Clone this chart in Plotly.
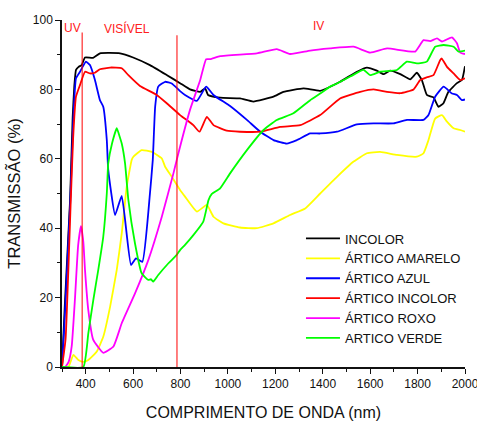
import plotly.graph_objects as go

# ---------------- data ----------------
incolor_nm = [300, 312, 334, 345, 352, 359, 370, 383, 397, 431, 460, 545, 600, 671, 743, 798, 840,
              883, 904, 916, 967, 1051, 1107, 1192, 1234, 1319, 1389, 1473, 1544, 1586, 1628, 1656,
              1684, 1727, 1769, 1797, 1818, 1839, 1867, 1888, 1909, 1930, 1966, 1987, 2000]
incolor_t = [0, 18, 48, 72, 81, 85.6, 86.5, 87, 89.2, 89.1, 90.4, 90.4, 89.2, 87, 84.1, 81.8, 80,
             79.3, 80.3, 78.4, 77.6, 77.4, 76.5, 77.9, 79.3, 80.3, 79.6, 82.2, 85.1, 86.3, 85.4, 84.4,
             85.4, 84.4, 82.9, 84.8, 82.7, 78.4, 77.7, 75.0, 76, 79.3, 81.8, 82.7, 86.7]

amarelo_nm = [300, 327, 348, 369, 390, 411, 446, 474, 503, 531, 552, 573, 594, 601, 636, 679, 721,
              735, 763, 798, 819, 869, 911, 939, 981, 1051, 1122, 1192, 1262, 1326, 1389, 1460, 1530,
              1586, 1642, 1713, 1797, 1825, 1846, 1874, 1903, 1924, 1952, 1980, 2000]
amarelo_t = [0, 0, 3.5, 2, 1.5, 2, 4.4, 8.7, 17.4, 28, 38.5, 52, 59.7, 60.6, 62.5, 62, 60.1,
             57.7, 54.8, 51, 49.1, 44.8, 46.7, 43.3, 41.4, 40.2, 40, 41.4, 43.8, 45.7, 50, 54.8, 59.2,
             61.6, 62, 61.1, 60.6, 61.6, 65.4, 71.6, 72.6, 70.7, 68.8, 68.3, 67.8]

azul_nm = [300, 310, 335, 348, 359, 376, 401, 418, 439, 460, 474, 489, 495, 524, 552, 591, 612, 639,
           671, 683, 693, 706, 735, 763, 798, 819, 869, 908, 939, 1009, 1080, 1136, 1192, 1248, 1291,
           1347, 1389, 1460, 1544, 1614, 1698, 1755, 1825, 1846, 1874, 1910, 1945, 1966, 1987, 2000]
azul_t = [0, 12, 48, 72, 83.2, 85.1, 88, 87, 82.7, 76.9, 75, 65.4, 56.8, 43.8, 49.3, 29.4, 31.3, 30.3,
          50, 59.7, 75, 80.8, 82.2, 81.7, 79.5, 78.4, 76.7, 80.8, 78.4, 75.2, 71.2, 67.8, 65.4, 64.4, 65.4,
          67.3, 67.3, 67.8, 69.9, 70.2, 70.2, 71.2, 71.2, 72.6, 77.9, 80.8, 78.8, 78.4, 76.9, 77.1]

art_incolor_nm = [300, 315, 337, 347, 359, 376, 397, 418, 439, 460, 503, 552, 580, 629, 700, 742,
                  798, 854, 880, 911, 939, 995, 1051, 1136, 1220, 1305, 1389, 1473, 1558, 1614, 1671,
                  1727, 1783, 1811, 1839, 1867, 1895, 1902, 1924, 1952, 1980, 2000]
art_incolor_t = [0, 8, 48, 66, 77.9, 81.3, 85.1, 84.6, 84.8, 85.8, 86.3, 86.1, 84.1, 81, 78.4, 76,
                 72.6, 69.7, 67.8, 72.1, 69.7, 68.1, 67.8, 67.8, 69.2, 69.7, 72.6, 77.4, 79.3, 80, 79.3,
                 78.9, 80, 82.7, 83.5, 84.1, 88.4, 88.9, 86.5, 84.6, 82.7, 83.2]

roxo_nm = [300, 313, 328, 341, 355, 368, 380, 390, 397, 411, 432, 474, 517, 552, 608, 664, 721, 770,
           784, 798, 840, 883, 908, 925, 967, 1122, 1206, 1262, 1347, 1431, 1530, 1600, 1671, 1790,
           1825, 1853, 1882, 1903, 1945, 1966, 1980, 2000]
roxo_t = [0, 0, 1.5, 6, 20, 35, 40.6, 36, 28, 16.4, 7.8, 4.1, 5.9, 12.6, 21.2, 30.8, 43.3, 55.8,
          59.7, 63.5, 74.1, 82.7, 88.7, 88.7, 89.6, 90.4, 91.6, 90.2, 91.2, 91.8, 92.3, 90.6, 91.8, 90.9,
          94.2, 93.9, 94.7, 93.8, 95, 93.3, 90.6, 90.2]

verde_nm = [300, 390, 411, 432, 453, 474, 489, 495, 511, 531, 545, 552, 566, 580, 608, 636, 664, 675,
            685, 706, 749, 784, 798, 819, 854, 896, 918, 932, 967, 1009, 1080, 1150, 1206, 1276, 1347,
            1389, 1431, 1460, 1516, 1572, 1600, 1642, 1713, 1755, 1797, 1839, 1874, 1910, 1952, 1973, 2000]
verde_t = [0, 0, 9.7, 19.3, 28, 37.5, 50, 58.7, 64.4, 68.8, 66, 64.4, 58.7, 48.1, 35.6, 27, 25.1, 25.3,
           24.6, 26.5, 29.9, 32.3, 33.7, 35.2, 38, 41.9, 48.1, 49.9, 51.5, 55.8, 62.5, 68.3, 71.2, 73.1, 76.9,
           78.8, 80.8, 81.7, 83.7, 85.6, 84.1, 85.1, 85.6, 88, 87.5, 88, 92.3, 92.8, 92.3, 90.9, 91.2]

series_names = ["INCOLOR", "ÁRTICO AMARELO", "ÁRTICO AZUL", "ÁRTICO INCOLOR", "ÁRTICO ROXO", "ARTICO VERDE"]
series_x = [incolor_nm, amarelo_nm, azul_nm, art_incolor_nm, roxo_nm, verde_nm]
series_y = [incolor_t, amarelo_t, azul_t, art_incolor_t, roxo_t, verde_t]
series_colors = ["#000000", "#FFFF00", "#0000FF", "#FF0000", "#FF00FF", "#00FF00"]

region_bounds = [385, 785]
region_tops = [96.4, 95.6]
region_labels = ["UV", "VISÍVEL", "IV"]
region_label_x = [344, 574, 1383]
region_label_y = [97.6, 97.6, 98.2]

x_tickvals = [400, 600, 800, 1000, 1200, 1400, 1600, 1800, 2000]

FONT = "Liberation Sans, Arial, sans-serif"

fig = go.Figure()
for name, xs, ys, col in zip(series_names, series_x, series_y, series_colors):
    fig.add_trace(go.Scatter(x=xs, y=ys, mode="lines", name=name,
                             line=dict(color=col, width=1.8, shape="spline", smoothing=0.4)))

for bx, top in zip(region_bounds, region_tops):
    fig.add_shape(type="line", xref="x", yref="y", x0=bx, x1=bx, y0=0, y1=top,
                  line=dict(color="#FF0000", width=1))

for lab, lx, ly in zip(region_labels, region_label_x, region_label_y):
    fig.add_annotation(x=lx, y=ly, xref="x", yref="y", text=lab, showarrow=False,
                       font=dict(family=FONT, size=12, color="#FF2020"))

fig.update_layout(
    width=477, height=421,
    margin=dict(l=62, r=12, t=20, b=54, autoexpand=False),
    paper_bgcolor="white", plot_bgcolor="white",
    font=dict(family=FONT, size=12, color="#111111"),
    showlegend=True,
    legend=dict(x=0.593, y=0.4135, xanchor="left", yanchor="top",
                bgcolor="rgba(0,0,0,0)", borderwidth=0,
                font=dict(family=FONT, size=13, color="#111111"),
                itemwidth=34),
)
fig.update_xaxes(range=[300, 2000], showgrid=False, zeroline=False, automargin=False,
                 showline=True, linecolor="#111111", linewidth=1.5,
                 ticks="outside", ticklen=5, tickwidth=1.2, tickcolor="#111111",
                 tickmode="array", tickvals=x_tickvals, ticklabeloverflow="allow",
                 minor=dict(ticks="outside", ticklen=3, tickwidth=1, tickcolor="#111111", dtick=100, tick0=300, showgrid=False),
                 tickfont=dict(family=FONT, size=12, color="#111111"),
                 title=dict(text="COMPRIMENTO DE ONDA (nm)", standoff=17,
                            font=dict(family=FONT, size=16, color="#111111")))
fig.update_yaxes(range=[0, 100], showgrid=False, zeroline=False, automargin=False,
                 showline=True, linecolor="#111111", linewidth=1.5,
                 ticks="outside", ticklen=5, tickwidth=1.2, tickcolor="#111111",
                 dtick=20,
                 minor=dict(ticks="outside", ticklen=3, tickwidth=1, tickcolor="#111111", dtick=10, showgrid=False),
                 tickfont=dict(family=FONT, size=12, color="#111111"),
                 title=dict(text="TRANSMISSÃO (%)", standoff=8,
                            font=dict(family=FONT, size=16.5, color="#111111")))

fig.write_html("out.html", config={"displayModeBar": False})

# remove the default 8px body margin so the figure sits at the page origin
with open("out.html", "r", encoding="utf-8") as f:
    html = f.read()
html = html.replace("<body>", '<body style="margin:0;padding:0;overflow:hidden">', 1)
html = html.replace("<head>", '<head><style>html,body{margin:0;padding:0;}</style>', 1)
with open("out.html", "w", encoding="utf-8") as f:
    f.write(html)
